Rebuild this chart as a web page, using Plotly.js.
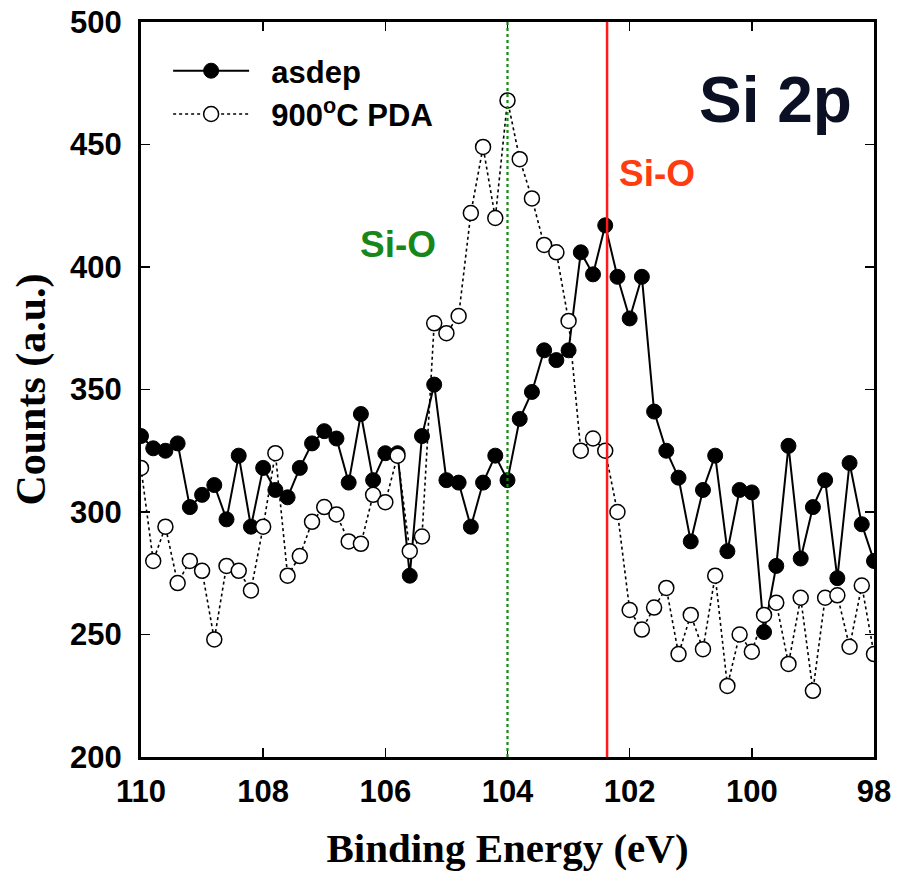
<!DOCTYPE html>
<html>
<head>
<meta charset="utf-8">
<script src="https://cdn.plot.ly/plotly-3.0.1.min.js"></script>
<style>
  html, body { margin: 0; padding: 0; background: #ffffff; }
  #chart { width: 897px; height: 880px; }
</style>
</head>
<body>
<div id="chart"></div>
<script>
// Binding energy grid (eV), high to low
const energy = [
  110.0, 109.8, 109.6, 109.4, 109.2, 109.0, 108.8, 108.6, 108.4, 108.2,
  108.0, 107.8, 107.6, 107.4, 107.2, 107.0, 106.8, 106.6, 106.4, 106.2,
  106.0, 105.8, 105.6, 105.4, 105.2, 105.0, 104.8, 104.6, 104.4, 104.2,
  104.0, 103.8, 103.6, 103.4, 103.2, 103.0, 102.8, 102.6, 102.4, 102.2,
  102.0, 101.8, 101.6, 101.4, 101.2, 101.0, 100.8, 100.6, 100.4, 100.2,
  100.0, 99.8, 99.6, 99.4, 99.2, 99.0, 98.8, 98.6, 98.4, 98.2,
  98.0
];

// Si 2p counts, as-deposited film
const asdepCounts = [
  331, 326, 325, 328, 302, 307, 311, 297, 323, 294,
  318, 309, 306, 318, 328, 333, 330, 312, 340, 313,
  324, 324, 274, 331, 352, 313, 312, 294, 312, 323,
  313, 338, 349, 366, 362, 366, 406, 397, 417, 396,
  379, 396, 341, 325, 314, 288, 309, 323, 284, 309,
  308, 251, 278, 327, 281, 302, 313, 273, 320, 295,
  280
];

// Si 2p counts after 900 °C post-deposition anneal
const pdaCounts = [
  318, 280, 294, 271, 280, 276, 248, 278, 276, 268,
  294, 324, 274, 282, 296, 302, 299, 288, 287, 307,
  304, 323, 284, 290, 377, 373, 380, 422, 449, 420,
  468, 444, 428, 409, 406, 378, 325, 330, 325, 300,
  260, 252, 261, 269, 242, 258, 244, 274, 229, 250,
  243, 258, 263, 238, 265, 227, 265, 266, 245, 270,
  242
];

// Legend labels (leading non-breaking spaces widen the gap after the symbol)
const seriesNames = ['\u00a0\u00a0asdep', '\u00a0\u00a0900<sup>o</sup>C PDA'];

// Reference positions of the Si-O components (eV)
const siOxideShifted = 104.0;
const siOxideMain = 102.37;

const xTicks = [110, 108, 106, 104, 102, 100, 98];
const yTicks = [200, 250, 300, 350, 400, 450, 500];

const sans = 'Liberation Sans, Arial, sans-serif';
const serif = 'Liberation Serif, Times New Roman, serif';

const traces = [
  {
    x: energy, y: asdepCounts, name: seriesNames[0],
    type: 'scatter', mode: 'lines+markers',
    line: { color: '#000000', width: 2 },
    marker: { symbol: 'circle', size: 15, color: '#000000',
              line: { color: '#000000', width: 1 } }
  },
  {
    x: energy, y: pdaCounts, name: seriesNames[1],
    type: 'scatter', mode: 'lines+markers',
    line: { color: '#000000', width: 1.6, dash: 'dot' },
    marker: { symbol: 'circle', size: 15, color: '#ffffff',
              line: { color: '#000000', width: 1.5 } }
  }
];

const axisCommon = {
  showline: true, linecolor: '#000000', linewidth: 3,
  mirror: 'ticks', ticks: 'inside', ticklen: 9, tickwidth: 1.5,
  tickcolor: '#000000', showgrid: false, zeroline: false,
  tickfont: { family: sans, size: 31, color: '#000000', weight: 'bold' }
};

const layout = {
  width: 897, height: 880,
  margin: { l: 141, r: 23, t: 22, b: 123 },
  paper_bgcolor: '#ffffff', plot_bgcolor: '#ffffff',
  showlegend: true,
  legend: {
    x: 0.037, y: 0.97, xanchor: 'left', yanchor: 'top',
    bgcolor: 'rgba(0,0,0,0)', borderwidth: 0,
    itemwidth: 76, tracegroupgap: 0,
    font: { family: sans, size: 31, color: '#000000', weight: 'bold' }
  },
  xaxis: Object.assign({}, axisCommon, {
    range: [110, 98], tickmode: 'array', tickvals: xTicks,
    ticklabelstandoff: 5,
    title: { text: 'Binding Energy (eV)', standoff: 26,
             font: { family: serif, size: 41, color: '#000000', weight: 'bold' } }
  }),
  yaxis: Object.assign({}, axisCommon, {
    range: [200, 500], tickmode: 'array', tickvals: yTicks,
    ticklabelstandoff: 10,
    title: { text: 'Counts (a.u.)', standoff: 12,
             font: { family: serif, size: 42, color: '#000000', weight: 'bold' } }
  }),
  shapes: [
    { type: 'line', layer: 'above', xref: 'x', yref: 'paper',
      x0: siOxideShifted, x1: siOxideShifted, y0: 0, y1: 1,
      line: { color: '#138a13', width: 2.2, dash: 'dot' } },
    { type: 'line', layer: 'above', xref: 'x', yref: 'paper',
      x0: siOxideMain, x1: siOxideMain, y0: 0, y1: 1,
      line: { color: '#ff1a1a', width: 2.5 } }
  ],
  annotations: [
    { x: 105.8, y: 409, xref: 'x', yref: 'y', text: 'Si-O', showarrow: false,
      font: { family: sans, size: 37, color: '#17871a', weight: 'bold' } },
    { x: 101.55, y: 438, xref: 'x', yref: 'y', text: 'Si-O', showarrow: false,
      font: { family: sans, size: 37, color: '#ff3b10', weight: 'bold' } },
    { x: 99.62, y: 468, xref: 'x', yref: 'y', text: 'Si 2p', showarrow: false,
      font: { family: sans, size: 64, color: '#0c1024', weight: 'bold' } }
  ]
};

Plotly.newPlot('chart', traces, layout, { displayModeBar: false, staticPlot: true });
</script>
</body>
</html>
